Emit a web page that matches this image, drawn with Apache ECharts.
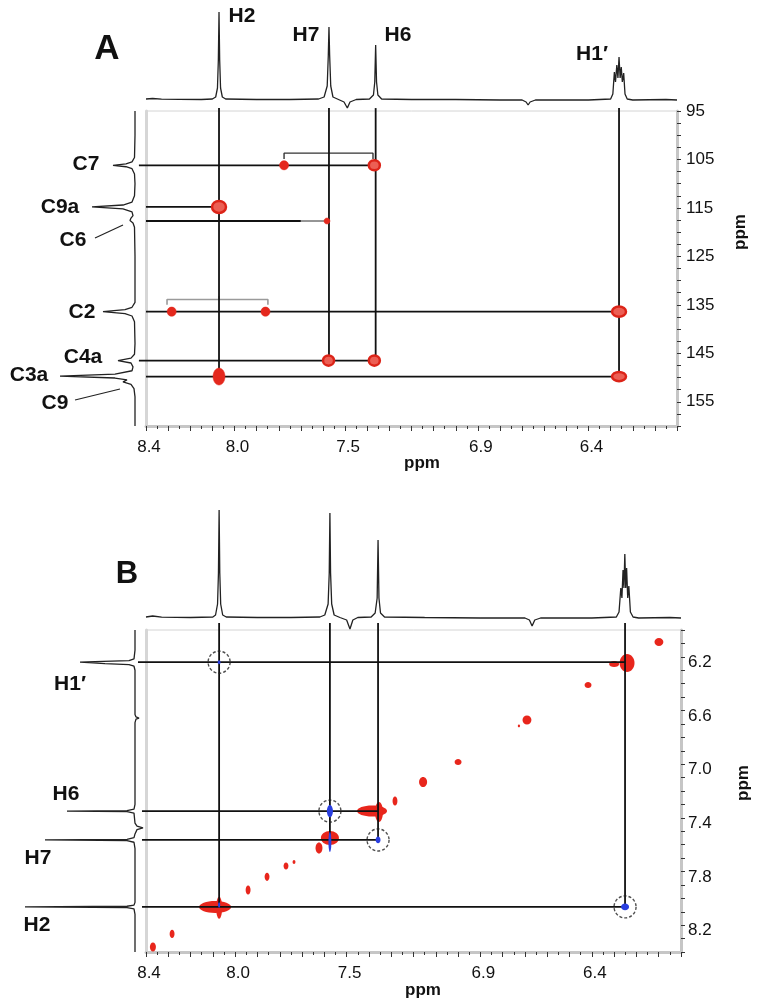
<!DOCTYPE html>
<html><head><meta charset="utf-8">
<script src="https://cdn.jsdelivr.net/npm/echarts@6/dist/echarts.min.js"></script>
<style>html,body{margin:0;padding:0;background:#fff}#c{width:760px;height:1004px}</style>
</head><body><div id="c"></div>
<script>
// ================= DATA =================
const xTickLabels = [8.4, 8.0, 7.5, 6.9, 6.4];          // 1H axis labels (both panels)
const cTickLabels = [95, 105, 115, 125, 135, 145, 155];  // 13C axis labels (panel A)
const hTickLabels = [6.2, 6.6, 7.0, 7.4, 7.8, 8.2];      // 1H axis labels (panel B, F1)

// 1D projections: [ppm, intensity]
const topSpecA = [[8.40,1],[8.37,1.5],[8.33,0.8],[8.25,0.6],[8.15,0.5],[8.10,1],[8.085,3],[8.077,12],[8.073,40],[8.070,88],[8.067,40],[8.063,12],[8.055,3],[8.04,1],[7.90,0.5],[7.75,0.5],[7.62,1],[7.595,3],[7.581,14],[7.576,45],[7.573,73],[7.570,45],[7.565,14],[7.555,3],[7.53,0.5],[7.505,-2],[7.49,-8],[7.478,-2],[7.45,0.5],[7.39,1],[7.372,5],[7.366,18],[7.362,55],[7.358,18],[7.352,5],[7.335,1],[7.2,0.5],[7.0,0.5],[6.8,0],[6.70,0],[6.682,-2],[6.673,-5],[6.664,-2],[6.64,0],[6.40,0],[6.30,1],[6.29,6],[6.283,28],[6.278,18],[6.272,35],[6.267,22],[6.262,43],[6.257,22],[6.252,33],[6.247,18],[6.241,27],[6.235,6],[6.225,1],[6.20,0],[6.05,0.5],[6.00,0]];
const leftSpecA = [[95,0],[100,0],[104.6,0.5],[105.5,3],[105.9,9],[106.2,22],[106.5,9],[106.9,3],[108,0.5],[110,0],[112.5,0.5],[113.8,3],[114.4,12],[114.8,43],[115.2,12],[115.8,3],[116.6,2],[117.1,4],[117.6,5],[118.1,2],[119,0.5],[125,0],[134.5,0],[135.5,3],[136.0,10],[136.4,32],[136.8,10],[137.3,3],[138.5,0.5],[143,0],[145.2,0.5],[146,4],[146.5,17],[147,4],[147.8,2],[148.6,3],[149.3,20],[149.7,75],[150.1,20],[150.5,8],[150.9,12],[151.4,4],[152.3,1],[154,0],[160,0]];
const topSpecB = [[8.40,1],[8.37,2],[8.33,0.8],[8.2,0.5],[8.10,1],[8.088,3],[8.079,14],[8.075,45],[8.072,108],[8.069,45],[8.065,14],[8.056,3],[8.04,1],[7.9,0.5],[7.75,0.5],[7.62,1],[7.598,3],[7.583,14],[7.578,45],[7.575,105],[7.572,45],[7.567,14],[7.556,3],[7.53,0.5],[7.50,-2],[7.485,-11],[7.472,-2],[7.45,0.5],[7.39,1],[7.372,5],[7.363,20],[7.359,78],[7.355,20],[7.348,5],[7.33,1],[7.15,0.5],[6.9,0],[6.7,0],[6.68,-2],[6.668,-8],[6.656,-2],[6.63,0],[6.4,0],[6.29,1],[6.278,6],[6.270,30],[6.265,20],[6.260,48],[6.256,30],[6.252,64],[6.248,30],[6.244,50],[6.239,20],[6.234,32],[6.227,6],[6.215,1],[6.19,0],[6.05,0.5],[6.00,0]];
const leftSpecB = [[6.0,0],[6.15,0],[6.215,1],[6.228,6],[6.235,40],[6.24,55],[6.245,42],[6.25,30],[6.258,6],[6.27,1],[6.3,0],[6.63,0],[6.648,-1],[6.656,-4],[6.664,-1],[6.69,0],[7.30,0],[7.335,1],[7.346,8],[7.35,68],[7.354,8],[7.365,1],[7.44,0],[7.462,-2],[7.475,-8],[7.488,-2],[7.52,0],[7.548,1],[7.560,8],[7.565,90],[7.570,8],[7.582,1],[7.63,0],[8.03,0],[8.05,1],[8.059,8],[8.064,110],[8.069,8],[8.078,1],[8.12,0],[8.4,0]];

// Panel A (HMBC) cross peaks: [1H ppm, 13C ppm, width ppm, height ppm]
const hmbcSolid = [[7.776,106.2,0.041,1.9],[8.284,136.4,0.041,1.9],[7.86,136.4,0.041,1.9],[8.07,149.8,0.054,3.5],[7.582,117.7,0.027,1.25]];
const hmbcRing  = [[7.368,106.2,0.05,2.1],[8.07,114.8,0.063,2.5],[6.262,136.4,0.063,2.1],[7.575,146.5,0.05,2.1],[7.368,146.5,0.05,2.1],[6.262,149.8,0.063,1.9]];
// Panel A connector lines
const hmbcV = [[8.07,94.4,149.8],[7.573,94.4,146.5],[7.362,94.4,146.5],[6.262,94.4,149.8]]; // [1H, C from, C to]
const hmbcH = [[106.2,8.432,7.362],[114.8,8.40,8.07],[117.7,8.40,7.70],[136.4,8.40,6.262],[146.5,8.432,7.362],[149.8,8.40,6.262]]; // [C, H from, H to]
const hmbcHGray = [[117.7,7.70,7.582]];
const bracketC7 = [[7.776,104.9],[7.776,103.7],[7.374,103.7],[7.374,104.9]];
const bracketC2 = [[8.305,135.0],[8.305,133.9],[7.849,133.9],[7.849,135.0]];
const bracketC2Mid = [[8.07,133.9],[8.07,133.2]];

// Panel B (NOESY/ROESY) peaks: [F2 ppm, F1 ppm, width ppm, height ppm]
const noeRed = [[8.09,8.064,0.144,0.089],[8.072,8.07,0.027,0.164],[7.575,7.55,0.081,0.104],[7.624,7.625,0.031,0.082],[7.386,7.349,0.135,0.082],[7.355,7.356,0.036,0.149],[7.283,7.274,0.022,0.067],[6.242,6.246,0.067,0.134],[6.30,6.253,0.045,0.045],[8.369,8.362,0.027,0.067],[8.283,8.265,0.022,0.06],[7.942,7.937,0.022,0.067],[7.857,7.84,0.022,0.06],[7.772,7.759,0.022,0.052],[7.736,7.729,0.013,0.03],[7.157,7.133,0.036,0.075],[7.0,6.984,0.031,0.045],[6.691,6.671,0.04,0.067],[6.727,6.715,0.01,0.02],[6.417,6.41,0.031,0.045],[6.099,6.089,0.04,0.06]];
const noeBlue = [[8.072,6.24,0.013,0.03],[7.575,7.35,0.027,0.09],[7.359,7.565,0.022,0.05],[6.251,8.064,0.036,0.05],[7.575,7.58,0.013,0.15],[8.072,8.05,0.01,0.04]];
const noeCircles = [[8.072,6.24],[7.575,7.35],[7.359,7.565],[6.251,8.064]];
const noeV = [[8.072,5.948,8.064],[7.575,5.948,7.565],[7.359,5.948,7.565],[6.251,5.948,8.064]];
const noeH = [[6.24,8.436,6.251],[7.35,8.418,7.359],[7.565,8.418,7.359],[8.064,8.418,6.251]];

// ================= CHART =================
const FONT = 'Liberation Sans, Arial, sans-serif';
const near = (arr, v) => arr.some(t => Math.abs(t - v) < 1e-3);

function ellipseItem(fill, stroke, lw) {
  return function (params, api) {
    const c = api.coord([api.value(0), api.value(1)]);
    const s = api.size([api.value(2), api.value(3)]);
    return {type: 'ellipse', shape: {cx: c[0], cy: c[1], rx: s[0] / 2, ry: s[1] / 2},
      style: {fill: fill, stroke: stroke, lineWidth: lw}};
  };
}
function segItem(color, lw) {
  return function (params, api) {
    const p0 = api.coord([api.value(0), api.value(1)]);
    const p1 = api.coord([api.value(2), api.value(3)]);
    return {type: 'line', shape: {x1: p0[0], y1: p0[1], x2: p1[0], y2: p1[1]},
      style: {stroke: color, lineWidth: lw}};
  };
}
const vSeg = arr => arr.map(d => [d[0], d[1], d[0], d[2]]);
const hSeg = arr => arr.map(d => [d[1], d[0], d[2], d[0]]);

function segSeries(idx, data, color, lw, z) {
  return {type: 'custom', xAxisIndex: idx, yAxisIndex: idx, data: data, clip: false, z: z,
    renderItem: segItem(color, lw), silent: true};
}
function blobSeries(idx, data, fill, stroke, lw, z) {
  return {type: 'custom', xAxisIndex: idx, yAxisIndex: idx, data: data, clip: false, z: z,
    renderItem: ellipseItem(fill, stroke, lw), silent: true};
}
function specSeries(xi, data) {
  return {type: 'line', xAxisIndex: xi, yAxisIndex: xi, data: data, showSymbol: false, symbol: 'none',
    clip: false, lineStyle: {color: '#222', width: 1.3}, silent: true, z: 3};
}
function polySeries(idx, data, color, lw) {
  return {type: 'line', xAxisIndex: idx, yAxisIndex: idx, data: data, showSymbol: false, symbol: 'none',
    clip: false, lineStyle: {color: color, width: lw}, silent: true, z: 4};
}

const tickStyle = {show: true, length: 5, lineStyle: {color: '#333', width: 1}};
const minorStyle = {show: true, splitNumber: 2, length: 3, lineStyle: {color: '#333', width: 1}};
const grayLine = {show: true, lineStyle: {color: '#c6c6c6', width: 3}};
const labelBase = {fontSize: 17, color: '#111', fontFamily: FONT};

function hAxisMain(gi) {
  return {type: 'value', gridIndex: gi, min: 6.0, max: 8.4, interval: 0.1, inverse: true, position: 'bottom',
    axisLine: grayLine, axisTick: tickStyle, minorTick: minorStyle,
    splitLine: {show: false}, minorSplitLine: {show: false},
    axisLabel: Object.assign({}, labelBase, {margin: 13, padding: [0, 0, 0, 6], hideOverlap: false,
      formatter: v => near(xTickLabels, v) ? Number(v).toFixed(1) : ''})};
}
const hidden = (gi, min, max, inv) => ({type: 'value', gridIndex: gi, min: min, max: max, inverse: !!inv, show: false,
  splitLine: {show: false}});

const option = {
  animation: false,
  backgroundColor: '#fff',
  grid: [
    {left: 146, top: 111, width: 531, height: 315, show: true, borderColor: '#d4d4d4', borderWidth: 1},
    {left: 146, top: 0, width: 531, height: 115},
    {left: 0, top: 111, width: 145, height: 315},
    {left: 146, top: 630, width: 535, height: 322, show: true, borderColor: '#d4d4d4', borderWidth: 1},
    {left: 146, top: 498, width: 535, height: 135},
    {left: 0, top: 630, width: 145, height: 322}
  ],
  xAxis: [
    hAxisMain(0),
    hidden(1, 6.0, 8.4, true),
    hidden(2, -10, 135, true),
    hAxisMain(3),
    hidden(4, 6.0, 8.4, true),
    hidden(5, -10, 135, true)
  ],
  yAxis: [
    {type: 'value', gridIndex: 0, min: 95, max: 160, interval: 2.5, inverse: true, position: 'right',
      axisLine: grayLine, axisTick: {show: true, length: 4, lineStyle: {color: '#333'}},
      splitLine: {show: false},
      axisLabel: Object.assign({}, labelBase, {margin: 9, hideOverlap: false,
        formatter: v => near(cTickLabels, v) ? String(Math.round(v)) : ''})},
    hidden(1, -15, 100),
    hidden(2, 95, 160, true),
    {type: 'value', gridIndex: 3, min: 6.0, max: 8.4, interval: 0.1, inverse: true, position: 'right',
      axisLine: grayLine, axisTick: {show: true, length: 4, lineStyle: {color: '#333'}},
      splitLine: {show: false},
      axisLabel: Object.assign({}, labelBase, {margin: 7, verticalAlign: 'top', lineHeight: 11, hideOverlap: false,
        formatter: v => near(hTickLabels, v) ? Number(v).toFixed(1) : ''})},
    hidden(4, -15, 120),
    hidden(5, 6.0, 8.4, true),
    {type: 'value', gridIndex: 0, min: 95, max: 160, inverse: true, position: 'left',
      axisLine: {show: true, lineStyle: {color: '#d6d6d6', width: 3}}, axisTick: {show: false}, axisLabel: {show: false}, splitLine: {show: false}},
    {type: 'value', gridIndex: 3, min: 6.0, max: 8.4, inverse: true, position: 'left',
      axisLine: {show: true, lineStyle: {color: '#d6d6d6', width: 3}}, axisTick: {show: false}, axisLabel: {show: false}, splitLine: {show: false}}
  ],
  series: [
    // 1D projections
    specSeries(1, topSpecA),
    specSeries(2, leftSpecA.map(d => [d[1], d[0]])),
    specSeries(4, topSpecB),
    specSeries(5, leftSpecB.map(d => [d[1], d[0]])),
    // Panel A lines
    segSeries(0, vSeg(hmbcV), '#111', 1.8, 5),
    segSeries(0, hSeg(hmbcH), '#111', 1.8, 5),
    segSeries(0, hSeg(hmbcHGray), '#8a8a8a', 1.8, 5),
    polySeries(0, bracketC7, '#333', 1.4),
    polySeries(0, bracketC2, '#9a9a9a', 1.6),
    polySeries(0, bracketC2Mid, '#9a9a9a', 1.4),
    // Panel A peaks
    blobSeries(0, hmbcSolid, '#e4281d', '#e4281d', 0.5, 8),
    blobSeries(0, hmbcRing, '#ec5f54', '#dc2418', 2.5, 8),
    // Panel B peaks
    blobSeries(3, noeRed, '#e8261c', null, 0, 4),
    segSeries(3, vSeg(noeV), '#111', 1.8, 6),
    segSeries(3, hSeg(noeH), '#111', 1.8, 6),
    blobSeries(3, noeBlue, '#2a3fe0', null, 0, 7),
    {type: 'scatter', xAxisIndex: 3, yAxisIndex: 3, data: noeCircles, symbol: 'circle', symbolSize: 22, z: 9, silent: true,
      itemStyle: {color: 'rgba(0,0,0,0)', borderColor: '#222', borderWidth: 1.4, borderType: [3, 2]}}
  ],
  graphic: [
    {type: 'text', x: 107, y: 49, style: {text: 'A', font: 'bold 35px ' + FONT, fill: '#111', align: 'center', verticalAlign: 'middle'}},
    {type: 'text', x: 242, y: 16, style: {text: 'H2', font: 'bold 21px ' + FONT, fill: '#111', align: 'center', verticalAlign: 'middle'}},
    {type: 'text', x: 306, y: 35, style: {text: 'H7', font: 'bold 21px ' + FONT, fill: '#111', align: 'center', verticalAlign: 'middle'}},
    {type: 'text', x: 398, y: 35, style: {text: 'H6', font: 'bold 21px ' + FONT, fill: '#111', align: 'center', verticalAlign: 'middle'}},
    {type: 'text', x: 592, y: 54, style: {text: 'H1\u2032', font: 'bold 21px ' + FONT, fill: '#111', align: 'center', verticalAlign: 'middle'}},
    {type: 'text', x: 86, y: 164, style: {text: 'C7', font: 'bold 21px ' + FONT, fill: '#111', align: 'center', verticalAlign: 'middle'}},
    {type: 'text', x: 60, y: 207, style: {text: 'C9a', font: 'bold 21px ' + FONT, fill: '#111', align: 'center', verticalAlign: 'middle'}},
    {type: 'text', x: 73, y: 240, style: {text: 'C6', font: 'bold 21px ' + FONT, fill: '#111', align: 'center', verticalAlign: 'middle'}},
    {type: 'text', x: 82, y: 312, style: {text: 'C2', font: 'bold 21px ' + FONT, fill: '#111', align: 'center', verticalAlign: 'middle'}},
    {type: 'text', x: 83, y: 357, style: {text: 'C4a', font: 'bold 21px ' + FONT, fill: '#111', align: 'center', verticalAlign: 'middle'}},
    {type: 'text', x: 29, y: 375, style: {text: 'C3a', font: 'bold 21px ' + FONT, fill: '#111', align: 'center', verticalAlign: 'middle'}},
    {type: 'text', x: 55, y: 403, style: {text: 'C9', font: 'bold 21px ' + FONT, fill: '#111', align: 'center', verticalAlign: 'middle'}},
    {type: 'line', shape: {x1: 95, y1: 238, x2: 123, y2: 225}, style: {stroke: '#222', lineWidth: 1.2}},
    {type: 'line', shape: {x1: 75, y1: 400, x2: 120, y2: 389}, style: {stroke: '#222', lineWidth: 1.2}},
    {type: 'text', x: 740, y: 232, rotation: Math.PI / 2, style: {text: 'ppm', font: 'bold 17px ' + FONT, fill: '#111', align: 'center', verticalAlign: 'middle'}},
    {type: 'text', x: 422, y: 463, style: {text: 'ppm', font: 'bold 17px ' + FONT, fill: '#111', align: 'center', verticalAlign: 'middle'}},
    {type: 'text', x: 127, y: 574, style: {text: 'B', font: 'bold 31px ' + FONT, fill: '#111', align: 'center', verticalAlign: 'middle'}},
    {type: 'text', x: 70, y: 684, style: {text: 'H1\u2032', font: 'bold 21px ' + FONT, fill: '#111', align: 'center', verticalAlign: 'middle'}},
    {type: 'text', x: 66, y: 794, style: {text: 'H6', font: 'bold 21px ' + FONT, fill: '#111', align: 'center', verticalAlign: 'middle'}},
    {type: 'text', x: 38, y: 858, style: {text: 'H7', font: 'bold 21px ' + FONT, fill: '#111', align: 'center', verticalAlign: 'middle'}},
    {type: 'text', x: 37, y: 925, style: {text: 'H2', font: 'bold 21px ' + FONT, fill: '#111', align: 'center', verticalAlign: 'middle'}},
    {type: 'text', x: 743, y: 783, rotation: Math.PI / 2, style: {text: 'ppm', font: 'bold 17px ' + FONT, fill: '#111', align: 'center', verticalAlign: 'middle'}},
    {type: 'text', x: 423, y: 990, style: {text: 'ppm', font: 'bold 17px ' + FONT, fill: '#111', align: 'center', verticalAlign: 'middle'}}
  ]
};

const chart = echarts.init(document.getElementById('c'), null, {renderer: 'canvas'});
chart.setOption(option);
</script></body></html>
